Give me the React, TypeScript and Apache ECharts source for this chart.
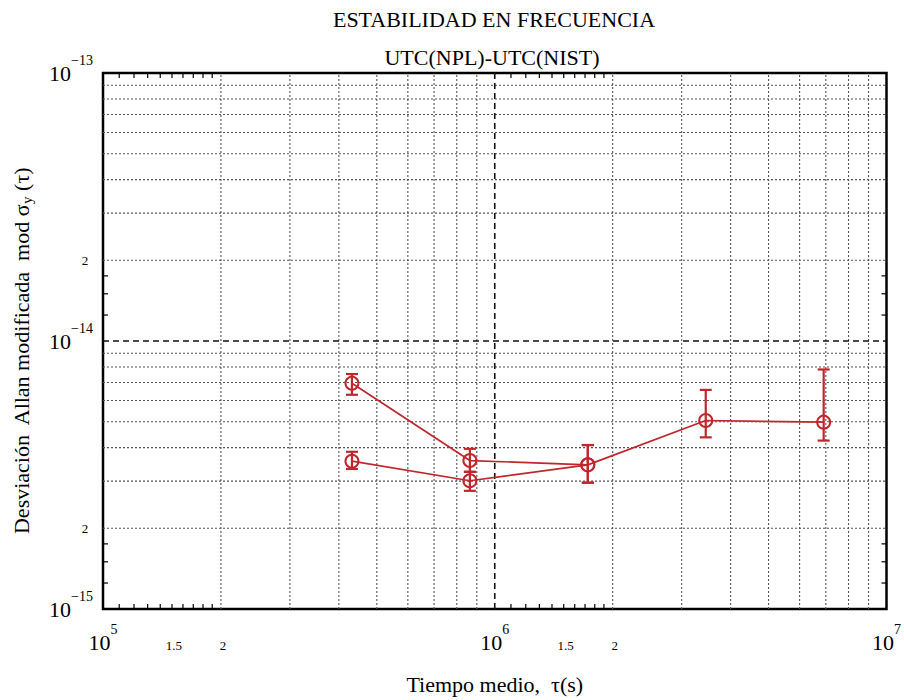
import React, { useEffect, useRef } from "react";
import * as echarts from "echarts";

// ---- data ----
const DAY = 86400;
const tauDaysA = [5, 10, 20, 40, 80];
const sigmaA = [6.96e-15, 3.58e-15, 3.45e-15, 5.05e-15, 4.98e-15];
const sigmaAHigh = [7.53e-15, 3.96e-15, 4.09e-15, 6.57e-15, 7.83e-15];
const sigmaALow = [6.3e-15, 3.25e-15, 2.96e-15, 4.37e-15, 4.25e-15];

const tauDaysB = [5, 10, 20];
const sigmaB = [3.56e-15, 3.01e-15, 3.45e-15];
const sigmaBHigh = [3.86e-15, 3.25e-15, 4.09e-15];
const sigmaBLow = [3.33e-15, 2.76e-15, 2.96e-15];

// ---- axes, grid, ticks ----
const X_MIN = 1e5;
const X_MAX = 1e7;
const Y_MIN = 1e-15;
const Y_MAX = 1e-13;
const xGridMinor = [2e5, 3e5, 4e5, 5e5, 6e5, 7e5, 8e5, 9e5, 2e6, 3e6, 4e6, 5e6, 6e6, 7e6, 8e6, 9e6];
const xGridMajor = [1e6];
const yGridMinor = [2e-15, 3e-15, 4e-15, 5e-15, 6e-15, 7e-15, 8e-15, 9e-15, 2e-14, 3e-14, 4e-14, 5e-14, 6e-14, 7e-14, 8e-14, 9e-14];
const yGridMajor = [1e-14];
const xMinorTicks = [1.1e5, 1.2e5, 1.3e5, 1.4e5, 1.5e5, 1.6e5, 1.7e5, 1.8e5, 1.9e5, 1.1e6, 1.2e6, 1.3e6, 1.4e6, 1.5e6, 1.6e6, 1.7e6, 1.8e6, 1.9e6];
const yMinorTicks = [1.25e-15, 1.5e-15, 1.75e-15, 1.25e-14, 1.5e-14, 1.75e-14];
const xSubLabelValues = [1.5e5, 2e5, 1.5e6, 2e6];
const xSubLabelTexts = ["1.5", "2", "1.5", "2"];
const ySubLabelValues = [2e-14, 2e-15];
const ySubLabelTexts = ["2", "2"];

const TITLE = "ESTABILIDAD EN FRECUENCIA";
const SUBTITLE = "UTC(NPL)-UTC(NIST)";

const FONT = '"Liberation Serif", "Times New Roman", serif';
const RED = "#c0272d";

function decadeLabel(v: number) {
  const e = Math.round(Math.log10(v));
  const s = e < 0 ? "\u2212" + String(-e) : String(e);
  return "{b|10}{e|" + s + "}";
}

const richLabel = {
  b: { fontSize: 22, lineHeight: 40, fontFamily: FONT, color: "#000" },
  e: { fontSize: 14, lineHeight: 14, verticalAlign: "top", fontFamily: FONT, color: "#000" },
};

function gridLineSeries(values: number[], dir: "x" | "y", major: boolean) {
  return {
    type: "custom",
    silent: true,
    clip: false,
    z: 1,
    data: values.map((v) => (dir === "x" ? [v, Y_MIN] : [X_MIN, v])),
    renderItem: (_p: any, api: any) => {
      const v = api.value(dir === "x" ? 0 : 1);
      const a = dir === "x" ? api.coord([v, Y_MIN]) : api.coord([X_MIN, v]);
      const b = dir === "x" ? api.coord([v, Y_MAX]) : api.coord([X_MAX, v]);
      return {
        type: "line",
        shape: { x1: a[0], y1: a[1], x2: b[0], y2: b[1] },
        style: major
          ? { stroke: "#111", lineWidth: 1.6, lineDash: [6, 4] }
          : { stroke: "#555", lineWidth: 1.1, lineDash: [2, 2] },
      };
    },
  };
}

function tickSeries(values: number[], dir: "x" | "y") {
  const L = 5;
  return {
    type: "custom",
    silent: true,
    clip: false,
    z: 3,
    data: values.map((v) => (dir === "x" ? [v, Y_MIN] : [X_MIN, v])),
    renderItem: (_p: any, api: any) => {
      const v = api.value(dir === "x" ? 0 : 1);
      const st = { stroke: "#000", lineWidth: 1.2 };
      if (dir === "x") {
        const a = api.coord([v, Y_MIN]);
        const b = api.coord([v, Y_MAX]);
        return {
          type: "group",
          children: [
            { type: "line", shape: { x1: a[0], y1: a[1], x2: a[0], y2: a[1] - L }, style: st },
            { type: "line", shape: { x1: b[0], y1: b[1], x2: b[0], y2: b[1] + L }, style: st },
          ],
        };
      }
      const a = api.coord([X_MIN, v]);
      const b = api.coord([X_MAX, v]);
      return {
        type: "group",
        children: [
          { type: "line", shape: { x1: a[0], y1: a[1], x2: a[0] + L, y2: a[1] }, style: st },
          { type: "line", shape: { x1: b[0], y1: b[1], x2: b[0] - L, y2: b[1] }, style: st },
        ],
      };
    },
  };
}

function subLabelSeries(values: number[], texts: string[], dir: "x" | "y") {
  return {
    type: "custom",
    silent: true,
    clip: false,
    z: 3,
    data: values.map((v) => (dir === "x" ? [v, Y_MIN] : [X_MIN, v])),
    renderItem: (p: any, api: any) => {
      const v = api.value(dir === "x" ? 0 : 1);
      const c = dir === "x" ? api.coord([v, Y_MIN]) : api.coord([X_MIN, v]);
      const x = dir === "x" ? c[0] + 2 : c[0] - 18;
      const y = dir === "x" ? c[1] + 36 : c[1];
      return {
        type: "text",
        x,
        y,
        style: {
          text: texts[p.dataIndex],
          font: "13px " + FONT,
          fill: "#000",
          align: "center",
          verticalAlign: "middle",
          textAlign: "center",
          textVerticalAlign: "middle",
        },
      };
    },
  };
}

function errorBarSeries(days: number[], low: number[], high: number[]) {
  return {
    type: "custom",
    silent: true,
    clip: false,
    z: 4,
    encode: { x: 0, y: [1, 2] },
    data: days.map((d, i) => [d * DAY, low[i], high[i]]),
    renderItem: (_p: any, api: any) => {
      const x = api.value(0);
      const lo = api.coord([x, api.value(1)]);
      const hi = api.coord([x, api.value(2)]);
      const w = 6;
      const st = { stroke: RED, lineWidth: 2.2 };
      return {
        type: "group",
        children: [
          { type: "line", shape: { x1: lo[0], y1: lo[1], x2: hi[0], y2: hi[1] }, style: st },
          { type: "line", shape: { x1: lo[0] - w, y1: lo[1], x2: lo[0] + w, y2: lo[1] }, style: st },
          { type: "line", shape: { x1: hi[0] - w, y1: hi[1], x2: hi[0] + w, y2: hi[1] }, style: st },
        ],
      };
    },
  };
}

function dataSeries(name: string, days: number[], vals: number[]) {
  return {
    name,
    type: "line",
    z: 5,
    data: days.map((d, i) => [d * DAY, vals[i]]),
    symbol: "circle",
    symbolSize: 13,
    lineStyle: { color: RED, width: 1.7 },
    itemStyle: { color: "rgba(0,0,0,0)", borderColor: RED, borderWidth: 2 },
    emphasis: { disabled: true },
  };
}

export default function App() {
  const ref = useRef<HTMLDivElement>(null);
  useEffect(() => {
    if (!ref.current) return;
    const chart = echarts.init(ref.current, undefined, { renderer: "svg" });
    chart.setOption({
      animation: false,
      backgroundColor: "#fff",
      textStyle: { fontFamily: FONT },
      grid: {
        left: 103,
        right: 14,
        top: 73,
        bottom: 88,
        show: true,
        borderColor: "#000",
        borderWidth: 2.5,
        backgroundColor: "transparent",
      },
      graphic: [
        {
          type: "text",
          x: 494,
          y: 19,
          style: {
            text: TITLE,
            font: "22px " + FONT,
            fill: "#000",
            align: "center",
            verticalAlign: "middle",
            textAlign: "center",
            textVerticalAlign: "middle",
          },
        },
        {
          type: "text",
          x: 492,
          y: 57,
          style: {
            text: SUBTITLE,
            font: "22px " + FONT,
            fill: "#000",
            align: "center",
            verticalAlign: "middle",
            textAlign: "center",
            textVerticalAlign: "middle",
          },
        },
      ],
      xAxis: {
        type: "log",
        logBase: 10,
        min: X_MIN,
        max: X_MAX,
        axisLine: { show: false },
        axisTick: { show: false },
        splitLine: { show: false },
        minorTick: { show: false },
        axisLabel: { formatter: decadeLabel, rich: richLabel, margin: 13 },
        name: "Tiempo medio,  \u03c4(s)",
        nameLocation: "middle",
        nameGap: 64,
        nameTextStyle: { fontSize: 22, fontFamily: FONT, color: "#000" },
      },
      yAxis: {
        type: "log",
        logBase: 10,
        min: Y_MIN,
        max: Y_MAX,
        axisLine: { show: false },
        axisTick: { show: false },
        splitLine: { show: false },
        minorTick: { show: false },
        axisLabel: { formatter: decadeLabel, rich: richLabel, margin: 10 },
        name: "{a|Desviaci\u00f3n  Allan modificada  mod \u03c3}{s|y}{a| (\u03c4)}",
        nameLocation: "middle",
        nameGap: 69,
        nameTextStyle: {
          color: "#000",
          padding: [0, 20, 0, 0],
          rich: {
            a: { fontSize: 22, lineHeight: 26, fontFamily: FONT, color: "#000" },
            s: { fontSize: 15, lineHeight: 14, verticalAlign: "bottom", fontFamily: FONT, color: "#000" },
          },
        },
      },
      series: [
        gridLineSeries(xGridMinor, "x", false),
        gridLineSeries(yGridMinor, "y", false),
        gridLineSeries(xGridMajor, "x", true),
        gridLineSeries(yGridMajor, "y", true),
        tickSeries(xMinorTicks, "x"),
        tickSeries(yMinorTicks, "y"),
        subLabelSeries(xSubLabelValues, xSubLabelTexts, "x"),
        subLabelSeries(ySubLabelValues, ySubLabelTexts, "y"),
        errorBarSeries(tauDaysA, sigmaALow, sigmaAHigh),
        errorBarSeries(tauDaysB, sigmaBLow, sigmaBHigh),
        dataSeries("A", tauDaysA, sigmaA),
        dataSeries("B", tauDaysB, sigmaB),
      ],
    });
    return () => chart.dispose();
  }, []);
  return (
    <div
      ref={ref}
      style={{ position: "fixed", left: 0, top: 0, width: 904, height: 700, background: "#fff" }}
    />
  );
}
